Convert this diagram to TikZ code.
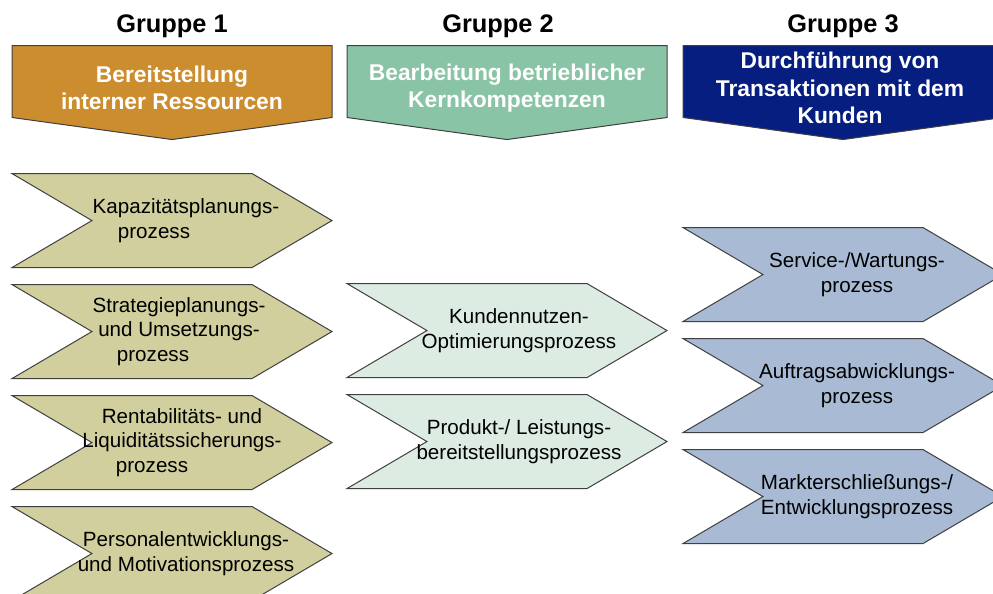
\documentclass[tikz,border=0pt]{standalone}
\usepackage{fontspec}
\setmainfont{Liberation Sans}
\usepackage{tikz}
\usetikzlibrary{shapes.symbols,positioning}

\definecolor{kopfA}{RGB}{204,141,46}
\definecolor{kopfB}{RGB}{136,196,165}
\definecolor{kopfC}{RGB}{6,30,128}
\definecolor{procA}{RGB}{209,207,158}
\definecolor{procB}{RGB}{220,236,226}
\definecolor{procC}{RGB}{168,186,212}

\tikzset{
  gruppe/.style={font=\fontsize{12.7}{15}\selectfont\bfseries, inner sep=0pt},
  kopf/.style={signal, signal to=south, signal from=nowhere,
    signal pointer angle=164.3, draw=black!75, line width=0.5pt,
    minimum width=160pt, minimum height=36pt, inner sep=0pt},
  kopftext/.style={text=white, align=center, inner sep=0pt,
    font=\fontsize{11.4}{13.6}\selectfont\bfseries},
  chev/.style={signal, signal to=east, signal from=west,
    signal pointer angle=60.9, draw=black!75, line width=0.5pt,
    minimum width=160pt, minimum height=47pt, inner sep=0pt},
  ptext/.style={font=\fontsize{10.3}{12.3}\selectfont, align=center, inner sep=0pt},
}

\begin{document}
\begin{tikzpicture}[>=latex, x=1pt, y=1pt]
\useasboundingbox (0,0) rectangle (496.5,-297);

%Kopfzeilen
\node[kopf, fill=kopfA, anchor=north] (k1) at (86,-22.5) {};
\node[kopf, fill=kopfB, anchor=north] (k2) at (253.5,-22.5) {};
\node[kopf, fill=kopfC, anchor=north] (k3) at (421.5,-22.5) {};

\node[kopftext] (k1t) at ([yshift=-21.5pt]k1.north) {Bereitstellung\\interner Ressourcen};
\node[kopftext] (k2t) at ([yshift=-21.5pt]k2.north) {Bearbeitung betrieblicher\\Kernkompetenzen};
\node[kopftext] (k3t) at ([yshift=-21.5pt, xshift=-1.5pt]k3.north) {Durchf\"uhrung von\\Transaktionen mit dem\\Kunden};

%Gruppen
\node[gruppe, above=3.5pt of k1] (g1) {Gruppe 1};
\node[gruppe, above=3.5pt of k2, xshift=-4.5pt] (g2) {Gruppe 2};
\node[gruppe, above=3.5pt of k3] (g3) {Gruppe 3};

%Gruppe 1 Prozesse
\node[chev, fill=procA, below=16.5pt of k1] (kap) {};
\node[chev, fill=procA, below=8pt of kap] (stra) {};
\node[chev, fill=procA, below=8pt of stra] (rent) {};
\node[chev, fill=procA, below=8pt of rent] (pers) {};

%Gruppe 2 Prozesse
\node[chev, fill=procB, below=71.5pt of k2] (kund) {};
\node[chev, fill=procB, below=8pt of kund] (prod) {};

%Gruppe 3 Prozesse
\node[chev, fill=procC, below=43.5pt of k3] (serv) {};
\node[chev, fill=procC, below=8pt of serv] (auft) {};
\node[chev, fill=procC, below=8pt of auft] (mark) {};

%Texte
\node[ptext] (kapt) at ([xshift=7pt]kap.center) {Kapazit\"atsplanungs-\\prozess\hspace*{32pt}};
\node[ptext] (strat) at ([xshift=3.5pt]stra.center) {Strategieplanungs-\\und Umsetzungs-\\prozess\hspace*{26pt}};
\node[ptext] (rentt) at ([xshift=5pt]rent.center) {Rentabilit\"ats- und\\Liquidit\"atssicherungs-\\prozess\hspace*{30pt}};
\node[ptext] (perst) at ([xshift=7pt]pers.center) {Personalentwicklungs-\\und Motivationsprozess};

\node[ptext] (kundt) at ([xshift=6pt]kund.center) {Kundennutzen-\\Optimierungsprozess};
\node[ptext] (prodt) at ([xshift=6pt]prod.center) {Produkt-/ Leistungs-\\bereitstellungsprozess};

\node[ptext] (servt) at ([xshift=7pt]serv.center) {Service-/Wartungs-\\prozess};
\node[ptext] (auftt) at ([xshift=7pt]auft.center) {Auftragsabwicklungs-\\prozess};
\node[ptext] (markt) at ([xshift=7pt]mark.center) {Markterschlie\ss ungs-/\\Entwicklungsprozess};

\end{tikzpicture}
\end{document}
